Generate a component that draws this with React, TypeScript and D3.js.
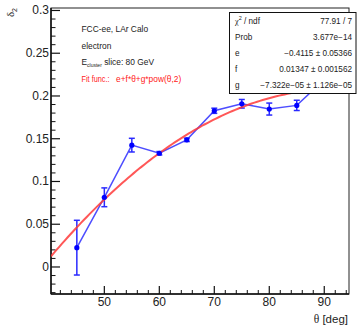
import React from "react";
import * as d3 from "d3";

const thetas = [45, 50, 55, 60, 65, 70, 75, 80, 85, 90];
const deltas = [0.0226, 0.0815, 0.1425, 0.133, 0.1487, 0.1827, 0.1909, 0.1847, 0.189, 0.219];
const errors = [0.032, 0.011, 0.008, 0.002, 0.002, 0.003, 0.005, 0.007, 0.006, 0.006];
const fitParams = { e: -0.4115, f: 0.01347, g: -7.322e-5 };
const xTicks = [50, 60, 70, 80, 90];
const yTicks = [0, 0.05, 0.1, 0.15, 0.2, 0.25, 0.3];
const yTickLabels = ["0", "0.05", "0.1", "0.15", "0.2", "0.25", "0.3"];
const statLabels = ["χ² / ndf", "Prob", "e", "f", "g"];
const statValues = ["77.91 / 7", "3.677e−14", "−0.4115 ± 0.05366", "0.01347 ± 0.001562", "−7.322e−05 ± 1.126e−05"];

const W = 357, H = 326;
const L = 51, R = 349, T = 8, B = 294;

export default function App() {
  const x = d3.scaleLinear().domain([40.3, 94.5]).range([L, R]);
  const y = d3.scaleLinear().domain([-0.0316, 0.3029]).range([B, T]);
  const font = "'Liberation Sans', Arial, sans-serif";

  const xMinor = d3.range(42, 95, 2).filter((v) => v % 10 !== 0);
  const yMinor = d3.range(-0.03, 0.301, 0.01).filter((v) => Math.abs(Math.round(v * 100) % 5) !== 0);

  const fitPts = d3.range(40.3, 94.51, 0.5).map((t) => [t, fitParams.e + fitParams.f * t + fitParams.g * t * t] as [number, number]);
  const fitLine = d3.line<[number, number]>().x((d) => x(d[0])).y((d) => y(d[1]))(fitPts) || "";
  const dataLine = d3.line<number>().x((_, i) => x(thetas[i])).y((d) => y(d))(deltas) || "";

  const boxX = 229.5, boxY = 12.5, boxW = 126.5, boxH = 81;
  const rowH = boxH / 5;

  return (
    <svg width={W} height={H} style={{ position: "absolute", left: 0, top: 0, background: "#fff" }} fontFamily={font}>
      <rect x={0} y={0} width={W} height={H} fill="#fff" />
      <defs>
        <clipPath id="frame">
          <rect x={L} y={T} width={R - L} height={B - T} />
        </clipPath>
      </defs>
      {/* frame */}
      <rect x={L} y={T} width={R - L} height={B - T} fill="none" stroke="#222" strokeWidth={1} />
      <line x1={L} y1={T} x2={L} y2={B} stroke="#111" strokeWidth={1.5} />
      <line x1={L} y1={B} x2={R} y2={B} stroke="#111" strokeWidth={1.5} />
      {/* x ticks */}
      {xTicks.map((t) => (
        <g key={"xt" + t}>
          <line x1={x(t)} x2={x(t)} y1={B} y2={B - 8} stroke="#111" strokeWidth={1.2} />
          <text x={x(t)} y={306} textAnchor="middle" fontSize={12} fill="#222">{t}</text>
        </g>
      ))}
      {xMinor.map((t) => (
        <line key={"xm" + t} x1={x(t)} x2={x(t)} y1={B} y2={B - 4} stroke="#111" strokeWidth={1} />
      ))}
      {/* y ticks */}
      {yTicks.map((t, i) => (
        <g key={"yt" + t}>
          <line x1={L} x2={L + 9} y1={y(t)} y2={y(t)} stroke="#111" strokeWidth={1.2} />
          <text x={49} y={y(t) + 4} textAnchor="end" fontSize={12} fill="#222">{yTickLabels[i]}</text>
        </g>
      ))}
      {yMinor.map((t, i) => (
        <line key={"ym" + i} x1={L} x2={L + 4.5} y1={y(t)} y2={y(t)} stroke="#111" strokeWidth={1} />
      ))}
      {/* axis titles */}
      <text x={348} y={323} textAnchor="end" fontSize={11.5} fill="#222">
        <tspan fontFamily="'Liberation Serif', serif">θ</tspan> [deg]
      </text>
      <text transform="translate(14,8) rotate(-90)" textAnchor="end" fontSize={11} fill="#222">
        <tspan fontFamily="'Liberation Serif', serif">δ</tspan>
        <tspan fontSize={7} dy={2.5}>2</tspan>
      </text>
      {/* labels */}
      <g fontSize={8.4} fill="#222">
        <text x={81.5} y={32}>FCC-ee, LAr Calo</text>
        <text x={81.5} y={48.5}>electron</text>
        <text x={81.5} y={65}>E<tspan fontSize={5} dy={2}>cluster</tspan><tspan dy={-2}> slice: 80 GeV</tspan></text>
        <text x={81.5} y={81.5} fill="#ff2020" textLength={28} lengthAdjust="spacingAndGlyphs">Fit func.:</text>
        <text x={116} y={81.5} fill="#ff2020">e+f*θ+g*pow(θ,2)</text>
      </g>
      {/* data and fit */}
      <g clipPath="url(#frame)">
        <path d={dataLine} fill="none" stroke="#3a3aff" strokeOpacity={0.9} strokeWidth={1.5} />
        {thetas.map((t, i) => (
          <g key={"e" + t} stroke="#2a2aff" strokeWidth={1.5}>
            <line x1={x(t)} x2={x(t)} y1={y(deltas[i] - errors[i])} y2={y(deltas[i] + errors[i])} />
            <line x1={x(t) - 3} x2={x(t) + 3} y1={y(deltas[i] - errors[i])} y2={y(deltas[i] - errors[i])} />
            <line x1={x(t) - 3} x2={x(t) + 3} y1={y(deltas[i] + errors[i])} y2={y(deltas[i] + errors[i])} />
          </g>
        ))}
        <path d={fitLine} fill="none" stroke="#ff3a3a" strokeOpacity={0.85} strokeWidth={2} />
        {thetas.map((t, i) => (
          <circle key={"p" + t} cx={x(t)} cy={y(deltas[i])} r={2.6} fill="#0000ff" />
        ))}
      </g>
      {/* stats box */}
      <rect x={boxX} y={boxY} width={boxW} height={boxH} fill="#fff" stroke="#111" strokeWidth={1} />
      <g fontSize={8.2} fill="#222">
        {statLabels.map((s, i) => (
          <text key={"sl" + i} x={235} y={boxY + rowH * i + rowH / 2 + 3}>
            {i === 0 ? (<><tspan fontFamily="'Liberation Serif', serif">χ</tspan><tspan fontSize={5.5} dy={-3.5}>2</tspan><tspan dy={3.5}> / ndf</tspan></>) : s}
          </text>
        ))}
        {statValues.map((s, i) => (
          <text key={"sv" + i} x={352} y={boxY + rowH * i + rowH / 2 + 3} textAnchor="end">{s}</text>
        ))}
      </g>
    </svg>
  );
}
